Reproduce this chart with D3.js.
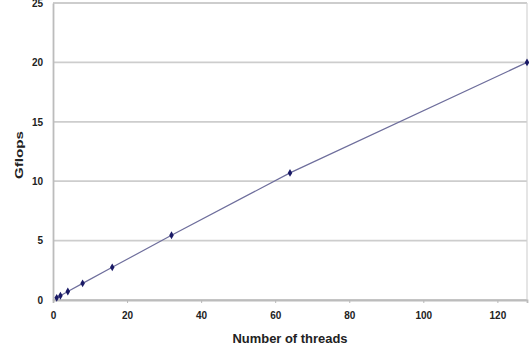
<!DOCTYPE html>
<html lang="en">
<head>
<meta charset="UTF-8">
<title>Gflops vs threads</title>
<style>
  body { margin: 0; background: #fff; }
  svg text { font-family: "Liberation Sans", Arial, sans-serif; font-weight: bold; fill: #222; }
</style>
</head>
<body>
<div id="chart"></div>
<script src="https://d3js.org/d3.v7.min.js"></script>
<script>
const w = 529;
const h = 350;
const padL = 53, padR = 527, padT = 3, padB = 300;

// data
const threads = [1, 2, 4, 8, 16, 32, 64, 128];
const gflops = [0.18, 0.36, 0.72, 1.4, 2.75, 5.45, 10.7, 20.0];
const xTicks = [0, 20, 40, 60, 80, 100, 120];
const yTicks = [0, 5, 10, 15, 20, 25];

const data = threads.map((t, i) => ({x: t, y: gflops[i]}));

const xScale = d3.scaleLinear().domain([0, 128]).range([padL, padR]);
const yScale = d3.scaleLinear().domain([0, 25]).range([padB, padT]);

const svg = d3.select('#chart').append('svg')
    .attr('width', w)
    .attr('height', h);

// horizontal gridlines
svg.selectAll('line.grid')
    .data(yTicks)
    .enter()
    .append('line')
    .attr('class', 'grid')
    .attr('x1', padL)
    .attr('x2', padR)
    .attr('y1', d => yScale(d))
    .attr('y2', d => yScale(d))
    .attr('stroke', '#cdcdcd')
    .attr('stroke-width', 1.8);

// right border of plot
svg.append('line')
    .attr('x1', padR).attr('x2', padR)
    .attr('y1', padT).attr('y2', padB)
    .attr('stroke', '#d4d4d4')
    .attr('stroke-width', 1.2);

// axes
const xAxis = d3.axisBottom(xScale).tickValues(xTicks).tickSize(3).tickPadding(9);
const yAxis = d3.axisLeft(yScale).tickValues(yTicks).tickSize(0).tickPadding(10);

const gx = svg.append('g')
    .attr('transform', `translate(0, ${padB})`)
    .call(xAxis);
const gy = svg.append('g')
    .attr('transform', `translate(${padL}, 0)`)
    .call(yAxis);

[gx, gy].forEach(g => {
    g.select('.domain').attr('stroke', '#bcbcbc').attr('stroke-width', 1.8);
    g.selectAll('.tick line').attr('stroke', '#b8b8b8');
    g.selectAll('.tick text').style('font-size', '10px').attr('fill', '#222');
});

// series line
const line = d3.line().x(d => xScale(d.x)).y(d => yScale(d.y));
svg.append('path')
    .datum(data)
    .attr('fill', 'none')
    .attr('stroke', '#6e6e9c')
    .attr('stroke-width', 1.2)
    .attr('d', line);

// markers
svg.selectAll('path.pt')
    .data(data)
    .enter()
    .append('path')
    .attr('class', 'pt')
    .attr('d', d3.symbol(d3.symbolDiamond, 18))
    .attr('transform', d => `translate(${xScale(d.x)}, ${yScale(d.y)})`)
    .attr('fill', '#1a1a66');

// axis titles
svg.append('text')
    .attr('x', 290)
    .attr('y', 343)
    .attr('text-anchor', 'middle')
    .attr('textLength', 115)
    .attr('lengthAdjust', 'spacingAndGlyphs')
    .style('font-size', '12px')
    .text('Number of threads');

svg.append('text')
    .attr('transform', 'translate(23, 155) rotate(-90)')
    .attr('text-anchor', 'middle')
    .attr('textLength', 48)
    .attr('lengthAdjust', 'spacingAndGlyphs')
    .style('font-size', '11px')
    .text('Gflops');
</script>
</body>
</html>
